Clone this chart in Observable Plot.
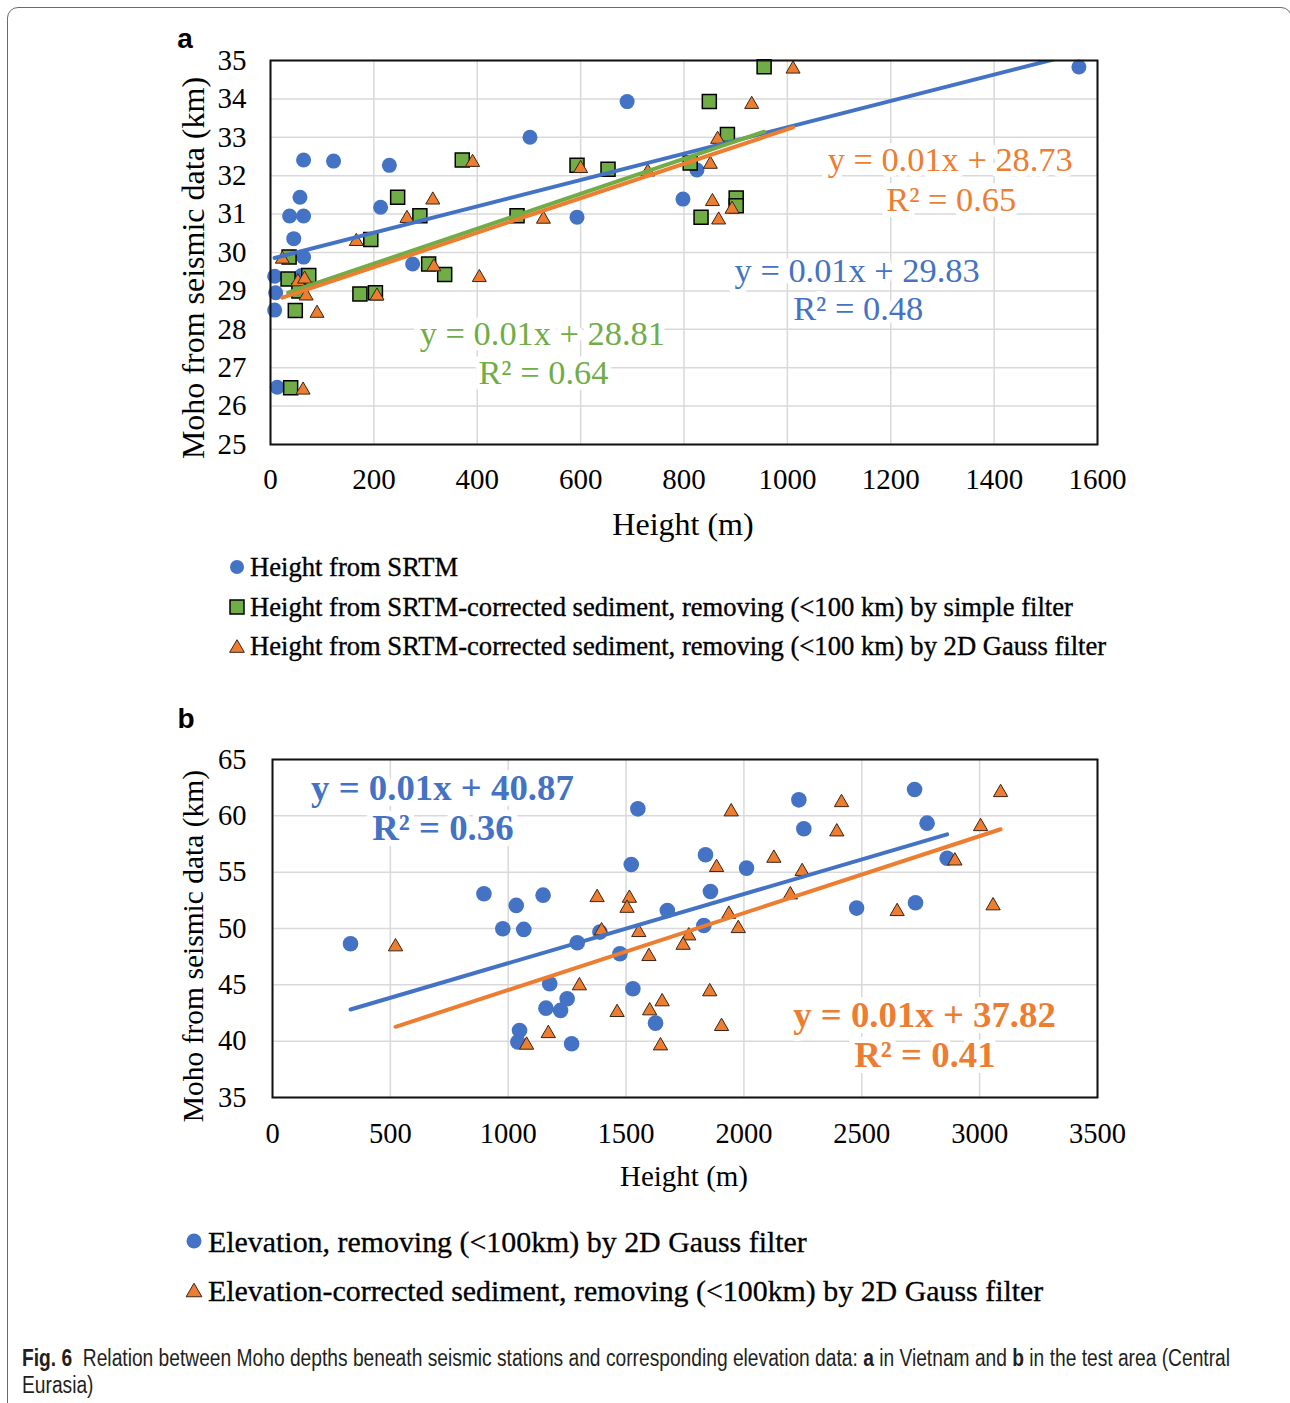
<!DOCTYPE html>
<html>
<head>
<meta charset="utf-8">
<script src="https://cdn.jsdelivr.net/npm/d3@7"></script>
<script src="https://cdn.jsdelivr.net/npm/@observablehq/plot@0.6"></script>
<style>
  html, body { margin: 0; padding: 0; background: #fff; }
  #page { position: relative; width: 1290px; height: 1403px; overflow: hidden; background: #fff; }
  .abs { position: absolute; }
  #border { position: absolute; left: 7px; top: 7px; width: 1285px; height: 1500px; box-sizing: border-box;
            border: 1.5px solid #6a6a6a; border-radius: 11px; }
  #cap { position: absolute; left: 22px; top: 1345px; font-family: 'Liberation Sans', Arial, sans-serif;
         font-size: 23px; line-height: 27px; color: #231f20; white-space: nowrap; transform-origin: 0 0; }
</style>
</head>
<body>
<div id="page">
  <div id="border"></div>
  <div id="plotA" class="abs" style="left:0;top:0"></div>
  <div id="plotB" class="abs" style="left:0;top:700px"></div>
  <div id="cap"><span id="capLine1"><b>Fig. 6</b>&nbsp; Relation between Moho depths beneath seismic stations and corresponding elevation data: <b>a</b> in Vietnam and <b>b</b> in the test area (Central</span><br>Eurasia)</div>
</div>
<script>
// ---------------- DATA ----------------
// Panel a: Vietnam
const aSrtmHeight = [8, 10, 8, 13, 37, 45, 57, 64, 64, 64, 60, 122, 213, 230, 275, 502, 593, 690, 798, 825, 1564];
const aSrtmMoho   = [29.38, 28.95, 28.5, 26.49, 30.95, 30.36, 31.44, 32.41, 30.95, 29.88, 29.4, 32.38, 31.18, 32.27, 29.7, 33.0, 30.92, 33.93, 31.39, 32.15, 34.83];

const aSimpleHeight = [36, 34, 74, 39, 48, 55, 173, 194, 203, 246, 289, 306, 337, 371, 477, 593, 653, 812, 833, 849, 884, 901, 901, 955];
const aSimpleMoho   = [29.88, 29.31, 29.4, 26.48, 28.49, 29.0, 28.92, 30.34, 28.95, 31.44, 30.96, 29.7, 29.43, 32.41, 30.96, 32.27, 32.17, 32.33, 30.92, 33.93, 33.07, 31.42, 31.22, 34.84];

const aGaussHeight = [23, 53, 66, 69, 63, 90, 166, 206, 264, 314, 316, 391, 404, 528, 600, 730, 851, 855, 865, 867, 893, 931, 1011];
const aGaussMoho   = [29.88, 29.29, 29.36, 28.92, 26.47, 28.47, 30.34, 28.92, 30.94, 31.42, 29.68, 32.4, 29.4, 30.92, 32.24, 32.15, 32.35, 31.38, 33.0, 30.9, 31.18, 33.91, 34.83];

// trend lines (srtm, simple, gauss)
const aTrendSlope     = [0.00343, 0.00455, 0.00449];
const aTrendIntercept = [29.83, 28.80, 28.72];
const aTrendFrom      = [8, 34, 23];
const aTrendTo        = [1564, 955, 1011];

const aEqText = ["y = 0.01x + 28.73", "R² = 0.65", "y = 0.01x + 29.83", "R² = 0.48", "y = 0.01x + 28.81", "R² = 0.64"];
const aEqX    = [1315, 1317, 1135, 1137, 526, 528];
const aEqY    = [32.4, 31.38, 29.53, 28.52, 27.89, 26.85];
const aEqSeries = ["gauss", "gauss", "srtm", "srtm", "simple", "simple"];

const aTicksX = [0, 200, 400, 600, 800, 1000, 1200, 1400, 1600];
const aTicksY = [25, 26, 27, 28, 29, 30, 31, 32, 33, 34, 35];

const aLegend = [
  "Height from SRTM",
  "Height from SRTM-corrected sediment, removing (<100 km) by simple filter",
  "Height from SRTM-corrected sediment, removing (<100 km) by 2D Gauss filter"
];

// Panel b: test area (Central Eurasia)
const bElevHeight = [331, 897, 1034, 1148, 977, 1066, 1550, 1522, 1675, 1293, 1389, 1474, 1176, 1250, 1160, 1222, 1529, 1625, 1048, 1041, 1269, 2233, 2254, 2724, 2777, 2862, 1837, 2011, 1858, 1830, 2478, 2728];
const bElevMoho   = [48.65, 53.08, 52.05, 52.96, 49.98, 49.92, 60.62, 55.68, 51.6, 48.74, 49.68, 47.76, 45.1, 43.77, 42.93, 42.73, 44.65, 41.6, 40.95, 39.92, 39.77, 61.42, 58.85, 62.34, 59.35, 56.24, 56.54, 55.36, 53.29, 50.27, 51.81, 52.28];

const bSedHeight = [522, 1377, 1514, 1504, 1396, 1554, 1597, 1302, 1462, 1600, 1653, 1170, 1078, 1646, 1946, 2414, 2394, 3089, 3004, 2895, 1884, 2127, 2247, 1936, 1976, 2197, 2650, 3057, 1766, 1742, 1855, 1905];
const bSedMoho   = [48.56, 52.93, 52.87, 51.98, 49.98, 49.83, 47.7, 45.1, 42.73, 42.88, 43.68, 40.86, 39.83, 39.77, 60.54, 61.36, 58.76, 62.25, 59.23, 56.18, 55.6, 56.42, 55.24, 51.45, 50.18, 53.17, 51.69, 52.2, 49.53, 48.7, 44.57, 41.49];

const bTrendSlope     = [0.00614, 0.00683];
const bTrendIntercept = [40.78, 37.71];
const bTrendFrom      = [331, 522];
const bTrendTo        = [2862, 3089];

const bEqText = ["y = 0.01x + 40.87", "R² = 0.36", "y = 0.01x + 37.82", "R² = 0.41"];
const bEqX    = [721, 723, 2766, 2768];
const bEqY    = [62.43, 58.88, 42.28, 38.74];
const bEqSeries = ["elev", "elev", "sed", "sed"];

const bTicksX = [0, 500, 1000, 1500, 2000, 2500, 3000, 3500];
const bTicksY = [35, 40, 45, 50, 55, 60, 65];

const bLegend = [
  "Elevation, removing (<100km) by 2D Gauss filter",
  "Elevation-corrected sediment, removing (<100km) by 2D Gauss filter"
];

// ---------------- STYLE ----------------
const serif = "'Liberation Serif', 'Times New Roman', serif";
const sans = "'Liberation Sans', Arial, sans-serif";
const COL = { srtm: "#4472C4", simple: "#70AD47", gauss: "#ED7D31", elev: "#4472C4", sed: "#ED7D31" };
const GRID = "#d9d9d9";

const pts = (xs, ys) => xs.map((x, i) => ({ x, y: ys[i] }));
const trend = (s, b, x0, x1) => [{ x: x0, y: b + s * x0 }, { x: x1, y: b + s * x1 }];
const fmt = d3.format("d");

// ---------------- PANEL A ----------------
const aSeries = ["srtm", "simple", "gauss"];
const aTrendMarks = aSeries.map((k, i) =>
  Plot.line(trend(aTrendSlope[i], aTrendIntercept[i], aTrendFrom[i], aTrendTo[i]),
    { x: "x", y: "y", stroke: COL[k], strokeWidth: 4, strokeLinecap: "round", clip: true }));
const aEqMarks = aEqText.map((t, i) =>
  Plot.text([{ x: aEqX[i], y: aEqY[i], t }], { x: "x", y: "y", text: "t", fill: COL[aEqSeries[i]],
    fontSize: 34.4, textAnchor: "middle", lineAnchor: "middle", stroke: "white", strokeWidth: 12 }));

const plotA = Plot.plot({
  width: 1290, height: 545,
  marginLeft: 270, marginRight: 193, marginTop: 60, marginBottom: 101,
  x: { domain: [0, 1600] },
  y: { domain: [25, 35] },
  style: { fontFamily: serif, fontSize: "28px", color: "#000", background: "transparent", overflow: "visible" },
  marks: [
    Plot.gridX(aTicksX, { stroke: GRID, strokeOpacity: 1, strokeWidth: 1.5 }),
    Plot.gridY(aTicksY, { stroke: GRID, strokeOpacity: 1, strokeWidth: 1.5 }),
    Plot.axisX(aTicksX, { tickSize: 0, tickPadding: 24, tickFormat: fmt, label: null, fontSize: 29 }),
    Plot.axisY(aTicksY, { tickSize: 0, tickPadding: 24, tickFormat: fmt, label: null, fontSize: 29 }),
    Plot.dot(pts(aSrtmHeight, aSrtmMoho), { x: "x", y: "y", r: 7.5, fill: COL.srtm }),
    Plot.dot(pts(aSimpleHeight, aSimpleMoho), { x: "x", y: "y", symbol: "square", r: 7.9, fill: COL.simple, stroke: "#000", strokeWidth: 1.5 }),
    Plot.dot(pts(aGaussHeight, aGaussMoho), { x: "x", y: "y", symbol: "triangle", r: 5.2, dy: 2, fill: COL.gauss, stroke: "#3b2414", strokeWidth: 1 }),
    ...aTrendMarks,
    Plot.frame({ stroke: "#111", strokeWidth: 2 }),
    ...aEqMarks
  ]
});
document.getElementById("plotA").appendChild(plotA);

// ---------------- PANEL B ----------------
const bSeries = ["elev", "sed"];
const bTrendMarks = bSeries.map((k, i) =>
  Plot.line(trend(bTrendSlope[i], bTrendIntercept[i], bTrendFrom[i], bTrendTo[i]),
    { x: "x", y: "y", stroke: COL[k], strokeWidth: 4, strokeLinecap: "round", clip: true }));
const bEqMarks = bEqText.map((t, i) =>
  Plot.text([{ x: bEqX[i], y: bEqY[i], t }], { x: "x", y: "y", text: "t", fill: COL[bEqSeries[i]],
    fontSize: 36.8, fontWeight: "bold", textAnchor: "middle", lineAnchor: "middle", stroke: "white", strokeWidth: 12 }));

const plotB = Plot.plot({
  width: 1290, height: 500,
  marginLeft: 272, marginRight: 193, marginTop: 59, marginBottom: 103,
  x: { domain: [0, 3500] },
  y: { domain: [35, 65] },
  style: { fontFamily: serif, fontSize: "28px", color: "#000", background: "transparent", overflow: "visible" },
  marks: [
    Plot.gridX(bTicksX, { stroke: GRID, strokeOpacity: 1, strokeWidth: 1.5 }),
    Plot.gridY(bTicksY, { stroke: GRID, strokeOpacity: 1, strokeWidth: 1.5 }),
    Plot.axisX(bTicksX, { tickSize: 0, tickPadding: 25, tickFormat: fmt, label: null, fontSize: 28.5 }),
    Plot.axisY(bTicksY, { tickSize: 0, tickPadding: 26, tickFormat: fmt, label: null, fontSize: 28.5 }),
    Plot.dot(pts(bElevHeight, bElevMoho), { x: "x", y: "y", r: 7.8, fill: COL.elev }),
    Plot.dot(pts(bSedHeight, bSedMoho), { x: "x", y: "y", symbol: "triangle", r: 5.3, dy: 2, fill: COL.sed, stroke: "#3b2414", strokeWidth: 1 }),
    ...bTrendMarks,
    Plot.frame({ stroke: "#111", strokeWidth: 2 }),
    ...bEqMarks
  ]
});
document.getElementById("plotB").appendChild(plotB);

// ---------------- OVERLAY: titles, panel letters, legends ----------------
const ov = d3.select("#page").append("svg")
  .attr("width", 1290).attr("height", 1403)
  .style("position", "absolute").style("left", 0).style("top", 0).style("pointer-events", "none");

function label(x, y, txt, opts = {}) {
  const t = ov.append("text").attr("x", x).attr("y", y)
    .attr("font-family", opts.family || serif).attr("font-size", opts.size || 28)
    .attr("font-weight", opts.weight || "normal")
    .attr("text-anchor", opts.anchor || "middle").attr("dominant-baseline", "central")
    .attr("fill", opts.fill || "#000").text(txt);
  if (opts.stroke) t.attr("stroke", opts.stroke).attr("stroke-width", opts.strokeWidth || 0.4);
  if (opts.rotate) t.attr("transform", `rotate(${opts.rotate},${x},${y})`);
  return t;
}

label(185, 38, "a", { family: sans, weight: "bold", size: 28 });
label(186, 718, "b", { family: sans, weight: "bold", size: 28 });
label(193, 268, "Moho from seismic data (km)", { size: 32, rotate: -90 });
label(193, 946, "Moho from seismic data (km)", { size: 29.5, rotate: -90 });
label(683, 524, "Height (m)", { size: 32 });
label(684, 1176, "Height (m)", { size: 29 });

function marker(kind, cx, cy, sz) {
  if (kind === "circle") {
    ov.append("circle").attr("cx", cx).attr("cy", cy).attr("r", sz).attr("fill", COL.srtm);
  } else if (kind === "square") {
    ov.append("rect").attr("x", cx - sz).attr("y", cy - sz).attr("width", 2 * sz).attr("height", 2 * sz)
      .attr("fill", COL.simple).attr("stroke", "#000").attr("stroke-width", 1.5);
  } else {
    const h = sz * 1.8, w = sz * 2.1;
    ov.append("path").attr("d", `M${cx},${cy - h / 2}L${cx + w / 2},${cy + h / 2}L${cx - w / 2},${cy + h / 2}Z`)
      .attr("fill", COL.gauss).attr("stroke", "#3b2414").attr("stroke-width", 1);
  }
}

const aLegendY = [567, 607, 646];
const aLegendKind = ["circle", "square", "triangle"];
aLegend.forEach((t, i) => {
  marker(aLegendKind[i], 237, aLegendY[i], 7);
  label(250, aLegendY[i], t, { size: 26.6, anchor: "start", stroke: "#000", strokeWidth: 0.35 });
});
const bLegendY = [1241, 1290];
const bLegendKind = ["circle", "triangle"];
bLegend.forEach((t, i) => {
  marker(bLegendKind[i], 194, bLegendY[i], 7.5);
  label(208, bLegendY[i], t, { size: 29.9, anchor: "start", stroke: "#000", strokeWidth: 0.3 });
});

// fit caption first line to the reference width (condensed face)
const capLine = document.getElementById("capLine1");
const w = capLine.getBoundingClientRect().width;
if (w > 0) document.getElementById("cap").style.transform = `scaleX(${(1208 / w).toFixed(4)})`;
</script>
</body>
</html>
